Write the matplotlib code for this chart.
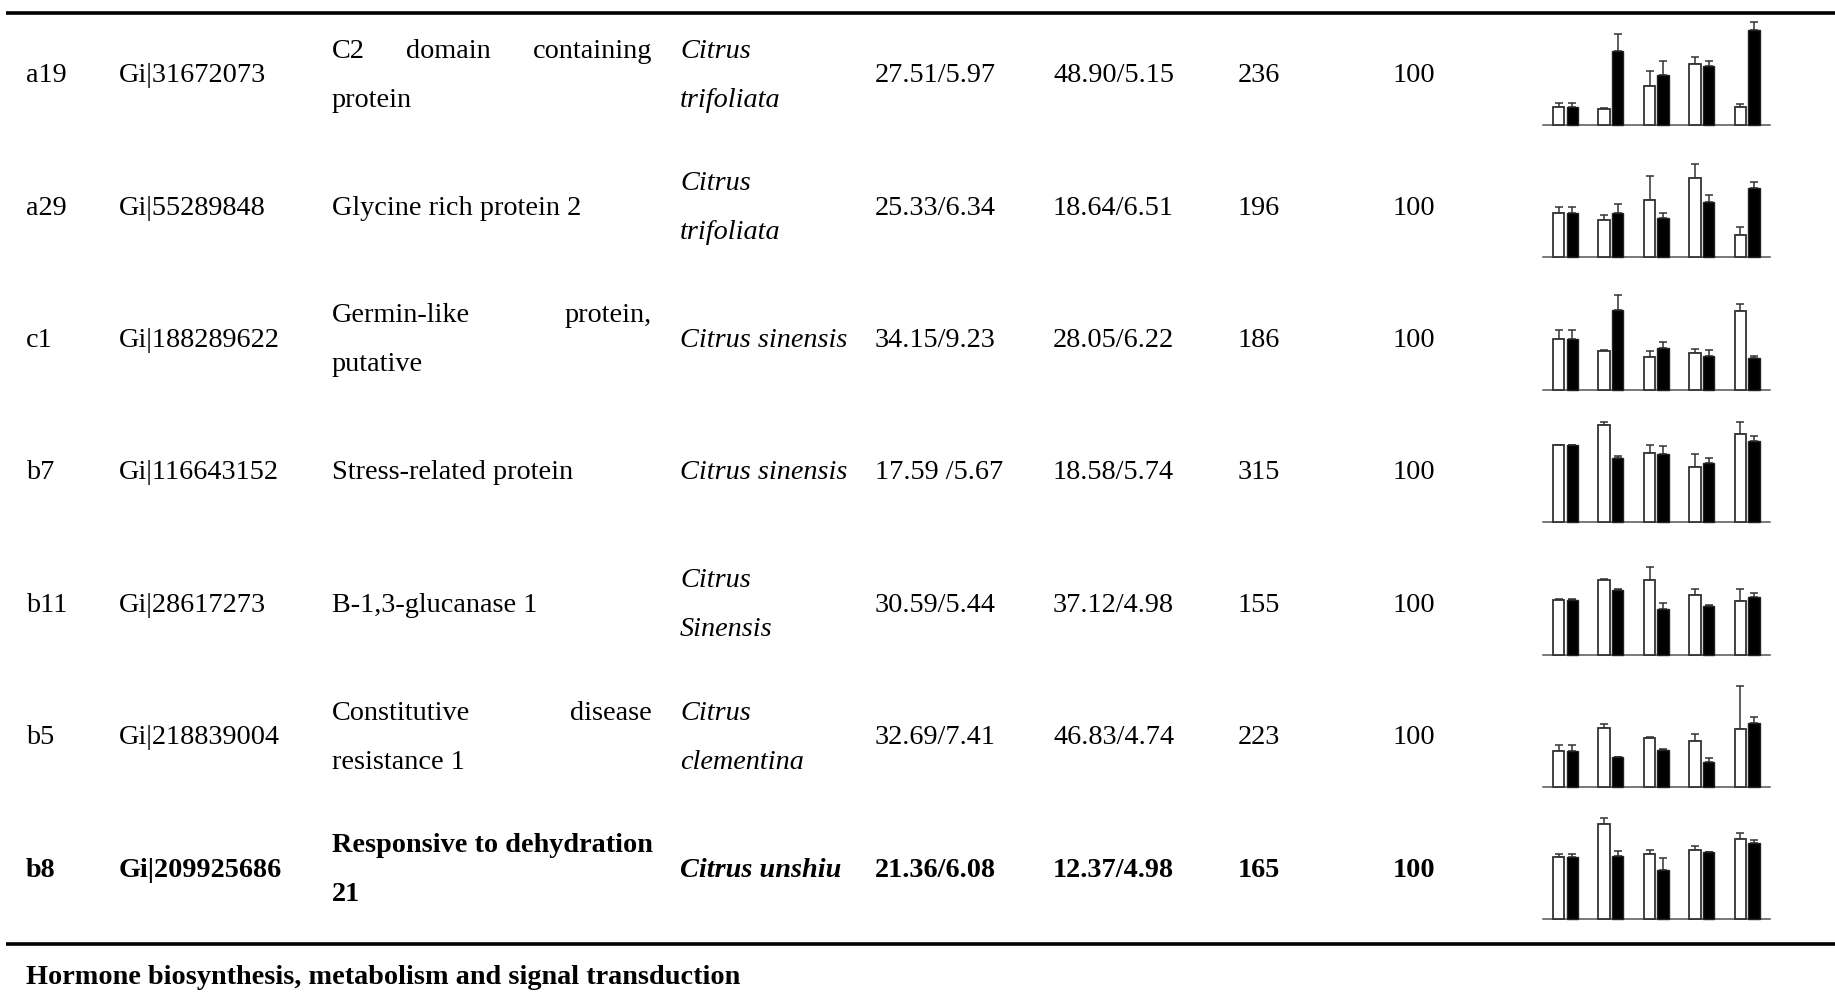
import numpy as np
import matplotlib
matplotlib.use('Agg')
import matplotlib.pyplot as plt

plt.rcParams['font.family'] = ['Liberation Serif', 'DejaVu Serif']

# table content
ids = ['a19', 'a29', 'c1', 'b7', 'b11', 'b5', 'b8']
gis = ['Gi|31672073', 'Gi|55289848', 'Gi|188289622', 'Gi|116643152',
       'Gi|28617273', 'Gi|218839004', 'Gi|209925686']
descs = [['C2 domain containing', 'protein'],
         ['Glycine rich protein 2'],
         ['Germin-like protein,', 'putative'],
         ['Stress-related protein'],
         ['B-1,3-glucanase 1'],
         ['Constitutive disease', 'resistance 1'],
         ['Responsive to dehydration', '21']]
species = [['Citrus', 'trifoliata'], ['Citrus', 'trifoliata'], ['Citrus sinensis'],
           ['Citrus sinensis'], ['Citrus', 'Sinensis'], ['Citrus', 'clementina'],
           ['Citrus unshiu']]
mw_theo = ['27.51/5.97', '25.33/6.34', '34.15/9.23', '17.59 /5.67',
           '30.59/5.44', '32.69/7.41', '21.36/6.08']
mw_exp = ['48.90/5.15', '18.64/6.51', '28.05/6.22', '18.58/5.74',
          '37.12/4.98', '46.83/4.74', '12.37/4.98']
scores = ['236', '196', '186', '315', '155', '223', '165']
coverage = ['100', '100', '100', '100', '100', '100', '100']
bold_rows = [6]
footer = 'Hormone biosynthesis, metabolism and signal transduction'

# relative expression, 5 groups per row
white = [[1.0, 0.89, 2.15, 3.33, 0.96],
         [1.0, 0.85, 1.30, 1.80, 0.51],
         [1.0, 0.77, 0.65, 0.73, 1.55],
         [1.0, 1.26, 0.90, 0.72, 1.15],
         [1.0, 1.36, 1.36, 1.08, 0.98],
         [1.0, 1.62, 1.34, 1.28, 1.61],
         [1.0, 1.52, 1.04, 1.10, 1.28]]
white_err = [[0.18, 0.02, 0.80, 0.38, 0.20],
             [0.14, 0.11, 0.53, 0.31, 0.17],
             [0.17, 0.01, 0.12, 0.07, 0.14],
             [0.01, 0.04, 0.11, 0.17, 0.15],
             [0.01, 0.02, 0.23, 0.11, 0.21],
             [0.15, 0.11, 0.03, 0.19, 1.17],
             [0.04, 0.09, 0.07, 0.07, 0.10]]
black = [[1.0, 4.05, 2.73, 3.20, 5.18],
         [1.0, 1.00, 0.89, 1.26, 1.56],
         [1.0, 1.56, 0.83, 0.67, 0.62],
         [1.0, 0.83, 0.89, 0.77, 1.06],
         [1.0, 1.18, 0.83, 0.89, 1.05],
         [1.0, 0.82, 1.02, 0.69, 1.76],
         [1.0, 1.01, 0.79, 1.07, 1.22]]
black_err = [[0.18, 0.89, 0.78, 0.27, 0.45],
             [0.14, 0.20, 0.11, 0.14, 0.13],
             [0.17, 0.30, 0.11, 0.12, 0.04],
             [0.01, 0.03, 0.10, 0.07, 0.06],
             [0.01, 0.01, 0.11, 0.01, 0.07],
             [0.15, 0.01, 0.04, 0.10, 0.18],
             [0.04, 0.08, 0.18, 0.01, 0.04]]
ymax = [6.0, 2.48, 2.16, 1.43, 2.0, 3.03, 1.75]

W, H = 1835, 1005
fig = plt.figure(figsize=(W / 100, H / 100), dpi=100)
bg = fig.add_axes([0, 0, 1, 1])
bg.set_xlim(0, W)
bg.set_ylim(H, 0)
bg.axis('off')

FS = 20.3
row_h = 132.4
base0 = 125
line_gap = 49
renderer = fig.canvas.get_renderer()


def put(x, yc, s, bold=False, italic=False):
    bg.text(x, yc + 9.5, s, fontsize=FS, va='baseline', ha='left',
            fontweight='bold' if bold else 'normal',
            fontstyle='italic' if italic else 'normal')


def put_justified(x0, x1, yc, s, bold=False):
    words = s.split()
    ts = [bg.text(x0, yc + 9.5, w, fontsize=FS, va='baseline', ha='left',
                  fontweight='bold' if bold else 'normal') for w in words]
    if len(ts) < 2:
        return
    widths = [t.get_window_extent(renderer).width for t in ts]
    gap = (x1 - x0 - sum(widths)) / (len(ts) - 1)
    x = x0
    for t, w in zip(ts, widths):
        t.set_x(x)
        x += w + gap


def put_lines(x, yc, lines, bold=False, italic=False, justify_to=None):
    n = len(lines)
    for k, s in enumerate(lines):
        y = yc + (k - (n - 1) / 2) * line_gap
        if justify_to is not None and n > 1 and k < n - 1:
            put_justified(x, justify_to, y, s, bold)
        else:
            put(x, y, s, bold, italic)


xs = np.arange(5)
for i in range(len(ids)):
    b = i in bold_rows
    base = base0 + row_h * i
    yc = base - 52.4
    put(26, yc, ids[i], b)
    put(119, yc, gis[i], b)
    put_lines(332, yc, descs[i], b, justify_to=None if b else 652)
    put_lines(680, yc, species[i], b, italic=True)
    put(875, yc, mw_theo[i], b)
    put(1053, yc, mw_exp[i], b)
    put(1238, yc, scores[i], b)
    put(1393, yc, coverage[i], b)

    ax = fig.add_axes([1542.7 / W, (H - base) / H, 227.3 / W, 110 / H])
    ax.bar(xs - 0.15, white[i], 0.25, color='white', edgecolor='#333333',
           linewidth=1.3, zorder=3, clip_on=False)
    ax.bar(xs + 0.15, black[i], 0.25, color='black', edgecolor='#222222',
           linewidth=1.0, zorder=3, clip_on=False)
    ax.errorbar(xs - 0.15, white[i], yerr=[np.zeros(5), white_err[i]], fmt='none',
                ecolor='#333333', elinewidth=1.1, capsize=3, capthick=1.1,
                zorder=2, clip_on=False)
    ax.errorbar(xs + 0.15, black[i], yerr=[np.zeros(5), black_err[i]], fmt='none',
                ecolor='#333333', elinewidth=1.1, capsize=3, capthick=1.1,
                zorder=2, clip_on=False)
    ax.set_xlim(-0.5, 4.5)
    ax.set_ylim(0, ymax[i])
    for side in ['top', 'right', 'left']:
        ax.spines[side].set_visible(False)
    ax.spines['bottom'].set_color('#555555')
    ax.spines['bottom'].set_linewidth(1.1)
    ax.set_xticks([])
    ax.set_yticks([])
    ax.patch.set_alpha(0)

bg.plot([6, W], [13, 13], color='black', lw=2.6, solid_capstyle='butt')
bg.plot([6, W], [944, 944], color='black', lw=2.6, solid_capstyle='butt')
bg.text(26, 984, footer, fontsize=FS, fontweight='bold', va='baseline', ha='left')

fig.savefig('out.png', dpi=100)
